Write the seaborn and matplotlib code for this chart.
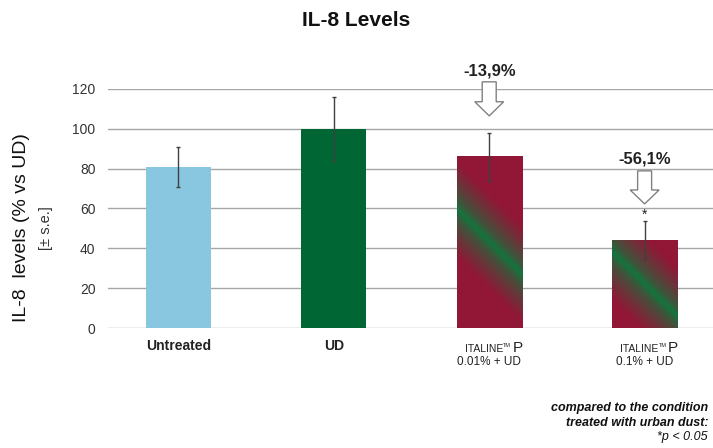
import matplotlib
matplotlib.use("Agg")
import matplotlib.pyplot as plt
from matplotlib.patches import Polygon
from matplotlib.transforms import blended_transform_factory
import numpy as np
import pandas as pd
import seaborn as sns

# data
groups = ["Untreated", "UD", "ITALINE P 0.01%", "ITALINE P 0.1%"]
levels = [81, 100, 86, 44]
errors = [10, 16, 12, 9.5]
bar_colors = ["#89C7E0", "#006633", "#8F1838", "#8F1838"]
sub_labels = ["0.01% + UD", "0.1% + UD"]
changes = ["-13,9%", "-56,1%"]

GREEN = np.array([0x0C, 0x7A, 0x3E]) / 255
CRIMSON = np.array([0x92, 0x17, 0x37]) / 255

sns.set_style("white")
plt.rcParams["font.family"] = ["Liberation Sans", "DejaVu Sans"]

fig = plt.figure(figsize=(7.13, 4.48), dpi=100)
ax = fig.add_axes([108 / 713, 120 / 448, 605 / 713, 239 / 448])

df = pd.DataFrame({"group": groups, "level": levels})
sns.barplot(data=df, x="group", y="level", hue="group", palette=bar_colors,
            legend=False, width=0.42, errorbar=None, saturation=1, ax=ax,
            linewidth=0, zorder=2)
ax.errorbar(range(len(groups)), levels, yerr=errors, fmt="none", ecolor="#404040",
            elinewidth=1, capsize=1.5, capthick=1, zorder=4)

ax.set_xlim(-0.453, 3.44)
ax.set_ylim(0, 120)
ax.set_yticks(range(0, 121, 20))
ax.yaxis.grid(True, color="#A6A6A6", lw=1)
ax.set_axisbelow(True)
for s in ax.spines.values():
    s.set_visible(False)
ax.tick_params(axis="y", length=0, pad=9, labelsize=10, labelcolor="#333333")
ax.set_xticks(range(len(groups)))
ax.set_xticklabels([])
ax.tick_params(axis="x", length=0)
ax.set_xlabel("")
ax.set_ylabel("")


def gradient_bar(patch):
    # crimson fill with a green 45° stripe through the bar centre
    x0, y0 = patch.get_x(), patch.get_y()
    w, h = patch.get_width(), patch.get_height()
    p0 = ax.transData.transform((x0, y0))
    p1 = ax.transData.transform((x0 + w, y0 + h))
    W, H = p1[0] - p0[0], p1[1] - p0[1]
    nx, ny = int(W * 2), int(H * 2)
    u = np.linspace(-W / 2, W / 2, nx)
    v = np.linspace(-H / 2, H / 2, ny)
    U, V = np.meshgrid(u, v)
    d = np.abs(U + V) / np.sqrt(2)
    t = np.clip(d / 34, 0, 1) ** 0.65
    img = GREEN * (1 - t[..., None]) + CRIMSON * t[..., None]
    patch.set_facecolor("none")
    ax.imshow(img, origin="lower", extent=[x0, x0 + w, y0, y0 + h],
              aspect="auto", zorder=2.5, interpolation="bilinear")


for patch in ax.patches[2:4]:
    gradient_bar(patch)
ax.set_xlim(-0.453, 3.44)
ax.set_ylim(0, 120)


def hollow_arrow(cx, top, neck, tip):
    sw, hw = 0.045, 0.093
    pts = [(cx - sw, top), (cx + sw, top), (cx + sw, neck), (cx + hw, neck),
           (cx, tip), (cx - hw, neck), (cx - sw, neck)]
    ax.add_patch(Polygon(pts, closed=True, facecolor="white", edgecolor="#808080",
                         lw=1, clip_on=False, zorder=5))


hollow_arrow(2, 123.6, 113.6, 106.5)
hollow_arrow(3, 78.9, 69.3, 62.3)
ax.text(2, 129, changes[0], ha="center", va="center", fontsize=12,
        fontweight="bold", color="#222222", clip_on=False)
ax.text(3, 85, changes[1], ha="center", va="center", fontsize=12,
        fontweight="bold", color="#222222", clip_on=False)
ax.text(3, 57, "*", ha="center", va="center", fontsize=10, color="#222222")

# x labels
tr = blended_transform_factory(ax.transData, fig.transFigure)
for i in range(2):
    ax.text(i, (448 - 346) / 448, groups[i], transform=tr, ha="center", va="center",
            fontsize=10, fontweight="bold", color="#222222")
for i, sub in zip([2, 3], sub_labels):
    ax.text(i + 0.088, (448 - 349) / 448, "ITALINE", transform=tr, ha="right",
            va="center", fontsize=7.5, color="#222222")
    ax.text(i + 0.091, (448 - 345.5) / 448, "TM", transform=tr, ha="left",
            va="center", fontsize=4, color="#222222")
    ax.text(i + 0.15, (448 - 348) / 448, "P", transform=tr, ha="left",
            va="center", fontsize=11, color="#222222")
    ax.text(i, (448 - 362) / 448, sub, transform=tr, ha="center", va="center",
            fontsize=8.5, color="#222222")

# y label
fig.text(22 / 713, 1 - 228 / 448, "IL-8  levels (% vs UD)", rotation=90,
         ha="center", va="center", fontsize=14, color="#111111")
fig.text(46 / 713, 1 - 228 / 448, "[\u00b1 s.e.]", rotation=90,
         ha="center", va="center", fontsize=10.5, color="#333333")

fig.text(0.5, 1 - 20 / 448, "IL-8 Levels", ha="center", va="center",
         fontsize=15, fontweight="bold", color="#111111")

# footnote
fig.text(708 / 713, 1 - 408 / 448, "compared to the condition", ha="right", va="center",
         fontsize=9, fontweight="bold", style="italic", color="#111111")
fig.text(708 / 713, 1 - 423 / 448, "treated with urban dust:", ha="right", va="center",
         fontsize=9, fontweight="bold", style="italic", color="#111111")
fig.text(708 / 713, 1 - 437 / 448, "*p < 0.05", ha="right", va="center",
         fontsize=9, style="italic", color="#111111")

fig.savefig("out.png", dpi=100)
